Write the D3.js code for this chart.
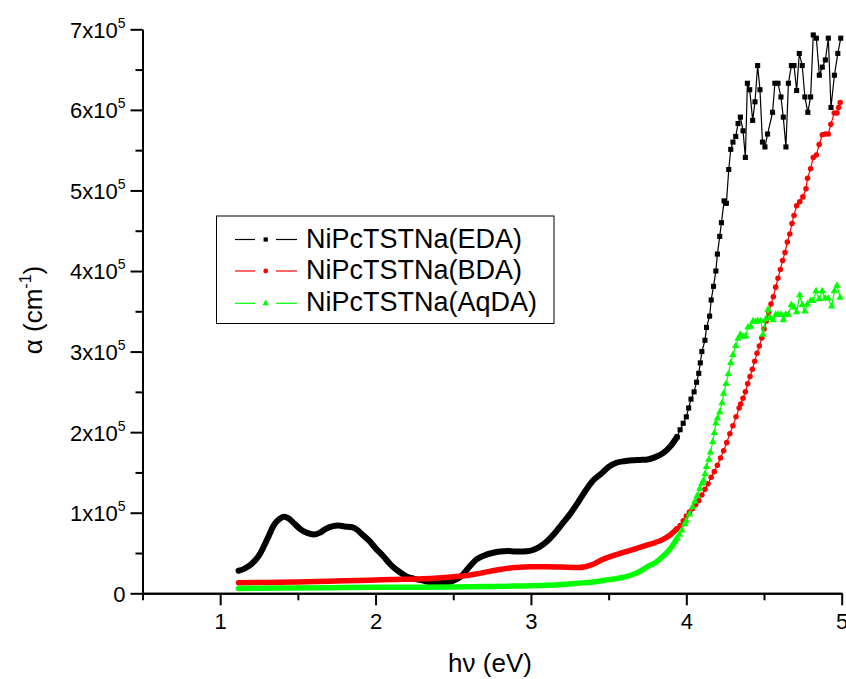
<!DOCTYPE html>
<html>
<head>
<meta charset="utf-8">
<script src="https://cdn.jsdelivr.net/npm/d3@7"></script>
<style>
  body { margin: 0; background: #fff; }
  text { font-family: "Liberation Sans", Arial, sans-serif; fill: #000; }
</style>
</head>
<body>
<svg id="chart" width="846" height="679"></svg>
<script>
// photon energy (eV), alpha in units of 1e5 cm^-1
var seriesNames = ['NiPcTSTNa(EDA)', 'NiPcTSTNa(BDA)', 'NiPcTSTNa(AqDA)'];

var eda = [
  [1.118,0.28],[1.15,0.30],[1.2,0.36],[1.25,0.47],[1.3,0.66],[1.35,0.86],[1.38,0.92],[1.41,0.95],
  [1.44,0.93],[1.48,0.86],[1.52,0.79],[1.56,0.75],[1.60,0.73],[1.64,0.75],[1.68,0.80],[1.72,0.83],
  [1.76,0.84],[1.80,0.83],[1.85,0.82],[1.88,0.79],[1.92,0.72],[1.96,0.65],[2.0,0.56],[2.05,0.46],
  [2.10,0.35],[2.15,0.27],[2.2,0.21],[2.25,0.18],[2.3,0.16],[2.35,0.14],[2.4,0.13],[2.45,0.13],
  [2.5,0.155],[2.55,0.21],[2.6,0.32],[2.65,0.42],[2.7,0.47],[2.75,0.50],[2.8,0.52],[2.85,0.525],
  [2.9,0.52],[2.95,0.52],[3.0,0.53],[3.05,0.57],[3.1,0.64],[3.15,0.74],[3.2,0.86],[3.25,0.98],
  [3.3,1.12],[3.35,1.27],[3.4,1.40],[3.45,1.48],[3.5,1.57],[3.55,1.62],[3.6,1.64],[3.65,1.65],
  [3.7,1.655],[3.75,1.66],[3.8,1.69],[3.85,1.74],[3.9,1.83],[3.94,1.94],
  [3.96,2.03],[3.98,2.11],[4.0,2.19],[4.015,2.30],[4.03,2.41],[4.05,2.50],[4.066,2.62],[4.08,2.73],
  [4.09,2.86],[4.10,3.0],[4.12,3.14],[4.13,3.30],[4.15,3.44],[4.16,3.64],[4.175,3.81],[4.19,4.0],
  [4.20,4.21],[4.215,4.43],[4.226,4.6],[4.243,4.87],[4.258,4.84],[4.273,5.26],[4.286,5.51],[4.30,5.60],
  [4.318,5.67],[4.333,5.83],[4.348,5.91],[4.365,5.74],[4.38,5.41],[4.393,6.33],[4.408,6.25],[4.427,5.87],
  [4.442,6.10],[4.459,6.55],[4.474,6.25],[4.49,5.60],[4.506,5.54],[4.523,5.70],[4.555,5.97],[4.57,6.33],
  [4.59,6.33],[4.609,6.16],[4.624,5.91],[4.641,5.54],[4.657,6.33],[4.676,6.55],[4.693,6.55],[4.71,6.24],
  [4.727,6.70],[4.746,6.55],[4.763,6.16],[4.782,5.97],[4.80,6.16],[4.817,6.93],[4.837,6.89],[4.856,6.43],
  [4.875,6.53],[4.895,6.62],[4.914,6.89],[4.931,6.03],[4.953,6.43],[4.975,6.70],[4.994,6.89]
];

var bda = [
  [1.118,0.13],[1.3,0.135],[1.5,0.14],[1.7,0.15],[1.9,0.16],[2.1,0.17],[2.3,0.18],[2.4,0.19],
  [2.5,0.205],[2.6,0.225],[2.7,0.26],[2.8,0.295],[2.9,0.32],[3.0,0.33],[3.1,0.33],[3.2,0.325],
  [3.3,0.32],[3.35,0.33],[3.4,0.36],[3.45,0.41],[3.5,0.45],[3.55,0.48],[3.6,0.51],[3.65,0.54],
  [3.7,0.57],[3.75,0.60],[3.8,0.63],[3.85,0.67],[3.9,0.73],[3.94,0.80],
  [3.96,0.84],[3.98,0.90],[4.0,0.96],[4.02,1.01],[4.04,1.05],[4.06,1.10],[4.08,1.15],[4.10,1.22],
  [4.12,1.29],[4.14,1.36],[4.16,1.44],[4.18,1.51],[4.20,1.59],[4.22,1.68],[4.24,1.77],[4.26,1.87],
  [4.28,1.98],[4.30,2.08],[4.32,2.19],[4.34,2.30],[4.35,2.35],[4.365,2.42],[4.38,2.50],[4.395,2.60],
  [4.41,2.69],[4.425,2.78],[4.44,2.88],[4.455,2.98],[4.47,3.07],[4.486,3.17],[4.50,3.28],[4.515,3.38],
  [4.53,3.48],[4.545,3.59],[4.56,3.68],[4.575,3.80],[4.59,3.91],[4.605,4.02],[4.62,4.13],[4.635,4.23],
  [4.65,4.36],[4.666,4.46],[4.68,4.59],[4.693,4.69],[4.71,4.81],[4.73,4.86],[4.75,4.92],
  [4.77,5.02],[4.78,5.15],[4.80,5.27],[4.817,5.41],[4.837,5.44],[4.855,5.57],[4.875,5.69],[4.896,5.70],
  [4.913,5.70],[4.93,5.82],[4.952,5.96],[4.97,5.96],[4.98,6.03],[4.99,6.09]
];

var aqda = [
  [1.118,0.06],[1.4,0.065],[1.7,0.07],[2.0,0.075],[2.3,0.075],[2.6,0.08],[2.9,0.09],[3.1,0.10],
  [3.2,0.11],[3.3,0.125],[3.4,0.14],[3.5,0.17],[3.6,0.20],[3.65,0.23],[3.7,0.27],[3.75,0.33],
  [3.8,0.38],[3.85,0.46],[3.9,0.56],[3.94,0.68],
  [3.955,0.73],[3.97,0.78],[3.99,0.86],[4.0,0.90],[4.02,0.98],[4.04,1.07],[4.055,1.14],[4.07,1.21],
  [4.087,1.30],[4.10,1.36],[4.11,1.40],[4.12,1.48],[4.13,1.57],[4.145,1.66],[4.155,1.75],[4.17,1.88],
  [4.18,1.99],[4.19,2.11],[4.2,2.17],[4.215,2.25],[4.23,2.36],[4.24,2.48],[4.256,2.60],[4.27,2.72],
  [4.286,2.86],[4.30,2.96],[4.318,3.07],[4.333,3.16],[4.348,3.21],[4.365,3.19],[4.382,3.19],[4.397,3.30],
  [4.414,3.31],[4.43,3.38],[4.447,3.37],[4.46,3.38],[4.48,3.38],[4.493,3.21],[4.51,3.40],[4.526,3.52],
  [4.54,3.42],[4.558,3.39],[4.575,3.46],[4.59,3.46],[4.61,3.46],[4.624,3.39],[4.64,3.46],[4.657,3.46],
  [4.676,3.58],[4.693,3.55],[4.71,3.49],[4.73,3.70],[4.746,3.58],[4.763,3.50],[4.78,3.59],[4.80,3.63],
  [4.815,3.63],[4.835,3.75],[4.855,3.65],[4.874,3.75],[4.893,3.66],[4.913,3.66],[4.935,3.56],[4.953,3.75],
  [4.97,3.82],[4.99,3.67]
];

var xMajor = [1, 2, 3, 4, 5];
var xMinor = [0.5, 1.5, 2.5, 3.5, 4.5];
var yMajor = [0, 1, 2, 3, 4, 5, 6, 7];
var yMinor = [0.5, 1.5, 2.5, 3.5, 4.5, 5.5, 6.5];

var svg = d3.select('#chart');
var plotLeft = 142.5, plotRight = 841.7, plotTop = 29.3, plotBottom = 593.3;

var x = d3.scaleLinear().domain([0.5, 5]).range([plotLeft, plotRight]);
var y = d3.scaleLinear().domain([0, 7]).range([plotBottom, plotTop]);

var colors = ['#000000', '#ff0000', '#00ff00'];
var symbols = [d3.symbolSquare, d3.symbolCircle, d3.symbolTriangle];
var symSizes = [26, 24, 24];
var allData = [eda, bda, aqda];
var cut = 3.94; // below this the points are so dense they merge into a thick band

// axes
var xAxis = svg.append('g').attr('transform', 'translate(0,' + plotBottom + ')')
  .call(d3.axisBottom(x).tickValues(xMajor).tickSize(12).tickSizeOuter(0).tickPadding(8).tickFormat(d3.format('d')));
svg.append('g').attr('transform', 'translate(0,' + plotBottom + ')')
  .call(d3.axisBottom(x).tickValues(xMinor).tickSize(7).tickSizeOuter(0).tickFormat(''));
var yAxis = svg.append('g').attr('transform', 'translate(' + plotLeft + ',0)')
  .call(d3.axisLeft(y).tickValues(yMajor).tickSize(12).tickSizeOuter(0).tickFormat(''));
svg.append('g').attr('transform', 'translate(' + plotLeft + ',0)')
  .call(d3.axisLeft(y).tickValues(yMinor).tickSize(7).tickSizeOuter(0).tickFormat(''));

svg.selectAll('.domain, .tick line').attr('stroke', '#000').attr('stroke-width', 2);
xAxis.selectAll('text').attr('font-size', 22).attr('fill', '#000');

yAxis.selectAll('.tick').each(function (d) {
  var t = d3.select(this).append('text')
    .attr('x', -17).attr('dy', '0.36em').attr('text-anchor', 'end')
    .attr('font-size', 22);
  if (d === 0) {
    t.text('0');
  } else {
    t.append('tspan').text(d + 'x10');
    t.append('tspan').attr('font-size', 14).attr('dy', -10).text('5');
  }
});

// curves
var thick = d3.line().x(function (d) { return x(d[0]); }).y(function (d) { return y(d[1]); })
  .curve(d3.curveMonotoneX);
var thin = d3.line().x(function (d) { return x(d[0]); }).y(function (d) { return y(d[1]); });

allData.forEach(function (data, i) {
  var g = svg.append('g');
  var dense = data.filter(function (d) { return d[0] <= cut; });
  var sparse = data.filter(function (d) { return d[0] >= cut; });
  g.append('path').attr('d', thick(dense)).attr('fill', 'none')
    .attr('stroke', colors[i]).attr('stroke-width', i === 0 ? 6 : 5.5).attr('stroke-linecap', 'round');
  g.append('path').attr('d', thin(sparse)).attr('fill', 'none')
    .attr('stroke', colors[i]).attr('stroke-width', 1.2);
  g.selectAll('path.pt').data(sparse).enter().append('path')
    .attr('class', 'pt')
    .attr('transform', function (d) { return 'translate(' + x(d[0]) + ',' + y(d[1]) + ')'; })
    .attr('d', d3.symbol().type(symbols[i]).size(symSizes[i]))
    .attr('fill', colors[i]);
});

// legend
var legend = svg.append('g');
legend.append('rect').attr('x', 216.5).attr('y', 216).attr('width', 337.5).attr('height', 107.5)
  .attr('fill', '#fff').attr('stroke', '#000').attr('stroke-width', 1);
var rowY = [239.5, 271, 303.3];
seriesNames.forEach(function (name, i) {
  var yy = rowY[i];
  legend.append('line').attr('x1', 235).attr('x2', 255).attr('y1', yy).attr('y2', yy)
    .attr('stroke', colors[i]).attr('stroke-width', 1.2);
  legend.append('line').attr('x1', 276).attr('x2', 297).attr('y1', yy).attr('y2', yy)
    .attr('stroke', colors[i]).attr('stroke-width', 1.2);
  legend.append('path').attr('transform', 'translate(265.7,' + yy + ')')
    .attr('d', d3.symbol().type(symbols[i]).size(18)).attr('fill', colors[i]);
  legend.append('text').attr('x', 306).attr('y', yy + 8).attr('font-size', 27).text(name);
});

// axis titles
svg.append('text').attr('x', 490).attr('y', 672).attr('text-anchor', 'middle')
  .attr('font-size', 26).text('h\u03bd (eV)');
var yt = svg.append('text').attr('transform', 'translate(42,310) rotate(-90)')
  .attr('text-anchor', 'middle').attr('font-size', 26);
yt.append('tspan').text('\u03b1 (cm');
yt.append('tspan').attr('font-size', 16).attr('dy', -11).text('-1');
yt.append('tspan').attr('dy', 11).text(')');
</script>
</body>
</html>
